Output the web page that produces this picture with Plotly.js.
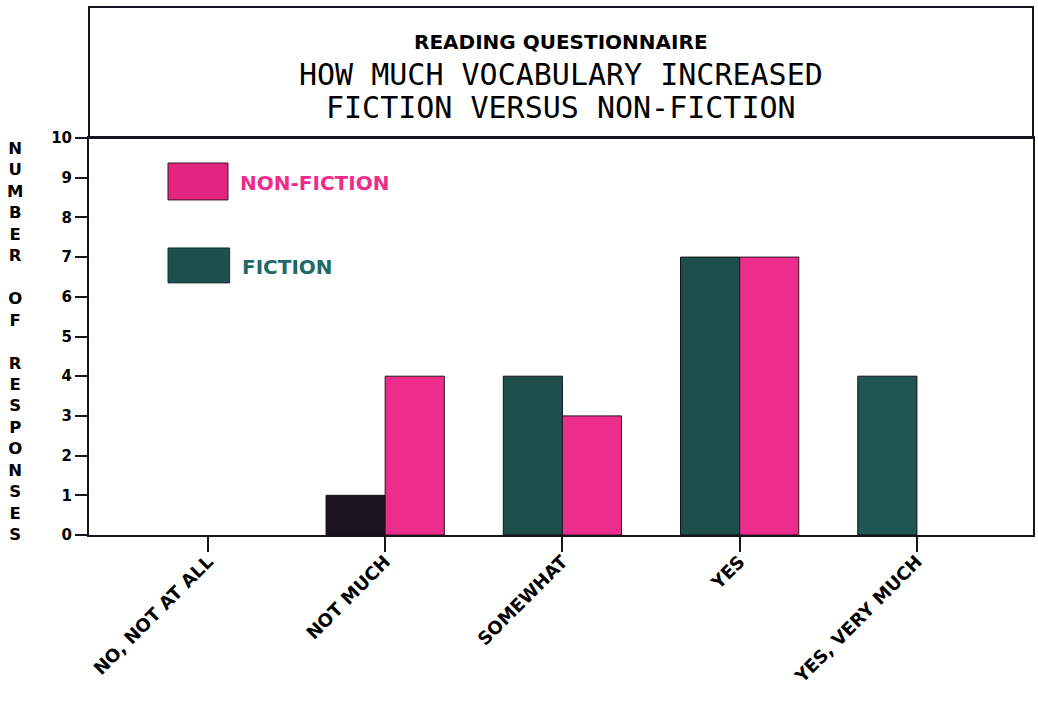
<!DOCTYPE html>
<html>
<head>
<meta charset="utf-8">
<script src="https://cdn.plot.ly/plotly-3.0.1.min.js"></script>
<style>html,body{margin:0;padding:0;background:#fff;}#chart{width:1038px;height:701px;}</style>
</head>
<body>
<div id="chart"></div>
<script>
// ---- data ----
const categories = ["NO, NOT AT ALL", "NOT MUCH", "SOMEWHAT", "YES", "YES, VERY MUCH"];
const fiction = [0, 1, 4, 7, 4];
const nonFiction = [0, 4, 3, 7, 0];
const titleLines = ["READING QUESTIONNAIRE", "HOW MUCH VOCABULARY INCREASED", "FICTION VERSUS NON-FICTION"];
const yAxisTitle = "NUMBER OF RESPONSES";
const seriesNames = ["FICTION", "NON-FICTION"];

// ---- styles ----
const teal = "#1e4f4c";
const pink = "#ec2d8b";
const fictionColors = [teal, "#1a1320", teal, teal, "#1f5653"];
const ink = "#15141f";
const boldFont = "DejaVu Sans";
const monoFont = "DejaVu Sans Mono";
const outlineWidth = v => v.map(d => (d > 0 ? 1 : 0));

const traces = [
  {
    type: "bar", name: seriesNames[0], x: categories, y: fiction,
    marker: {color: fictionColors, line: {color: "#101018", width: outlineWidth(fiction)}},
    hoverinfo: "x+y+name"
  },
  {
    type: "bar", name: seriesNames[1], x: categories, y: nonFiction,
    marker: {color: pink, line: {color: "#2a0f20", width: outlineWidth(nonFiction)}},
    hoverinfo: "x+y+name"
  }
];

const yTitleText = yAxisTitle.split("").map(c => c === " " ? "\u00a0" : c).join("<br>");

const layout = {
  width: 1038, height: 701,
  margin: {l: 89, r: 5, t: 138, b: 166, pad: 0},
  paper_bgcolor: "#ffffff", plot_bgcolor: "#ffffff",
  showlegend: false,
  barmode: "group", bargap: 0.333, bargroupgap: 0,
  xaxis: {
    type: "category", range: [-0.671, 4.655],
    showline: true, linecolor: ink, linewidth: 2, mirror: true,
    ticks: "outside", ticklen: 15, tickwidth: 2, tickcolor: ink,
    tickangle: -45, showgrid: false, zeroline: false, ticklabelstandoff: -8,
    tickfont: {family: boldFont, size: 18, color: "#000", weight: "bold"}
  },
  yaxis: {
    range: [0, 10], dtick: 1, tick0: 0,
    showline: true, linecolor: ink, linewidth: 2, mirror: true,
    ticks: "outside", ticklen: 12, tickwidth: 2, tickcolor: ink,
    showgrid: false, zeroline: false,
    tickfont: {family: boldFont, size: 15, color: "#000", weight: "bold"}
  },
  shapes: [
    {type: "rect", xref: "paper", yref: "paper", x0: 0, x1: 1, y0: 1, y1: 1.33,
     line: {color: ink, width: 2}},
    {type: "rect", xref: "paper", yref: "paper", x0: 0.0837, x1: 0.1472, y0: 0.844, y1: 0.937,
     fillcolor: "#e2267f", line: {color: "#3a1028", width: 1}},
    {type: "rect", xref: "paper", yref: "paper", x0: 0.0837, x1: 0.149, y0: 0.635, y1: 0.723,
     fillcolor: teal, line: {color: "#123330", width: 1}}
  ],
  annotations: [
    {text: titleLines[0], xref: "paper", yref: "paper", x: 0.5, y: 1.242, showarrow: false,
     xanchor: "center", yanchor: "middle",
     font: {family: boldFont, size: 20, color: "#000", weight: "bold"}},
    {text: titleLines[1], xref: "paper", yref: "paper", x: 0.5, y: 1.159, showarrow: false,
     xanchor: "center", yanchor: "middle",
     font: {family: monoFont, size: 30, color: "#000"}},
    {text: titleLines[2], xref: "paper", yref: "paper", x: 0.5, y: 1.078, showarrow: false,
     xanchor: "center", yanchor: "middle",
     font: {family: monoFont, size: 30, color: "#000"}},
    {text: seriesNames[1], xref: "paper", yref: "paper", x: 0.158, y: 0.887, showarrow: false,
     xanchor: "left", yanchor: "middle",
     font: {family: boldFont, size: 20, color: pink, weight: "bold"}},
    {text: seriesNames[0], xref: "paper", yref: "paper", x: 0.16, y: 0.675, showarrow: false,
     xanchor: "left", yanchor: "middle",
     font: {family: boldFont, size: 20, color: "#1f6a66", weight: "bold"}},
    {text: yTitleText, xref: "paper", yref: "paper", x: -0.078, y: 0.487, showarrow: false,
     xanchor: "center", yanchor: "middle", align: "center",
     font: {family: boldFont, size: 16.5, color: "#000", weight: "bold"}}
  ]
};

Plotly.newPlot("chart", traces, layout, {displayModeBar: false, staticPlot: true});
</script>
</body>
</html>
